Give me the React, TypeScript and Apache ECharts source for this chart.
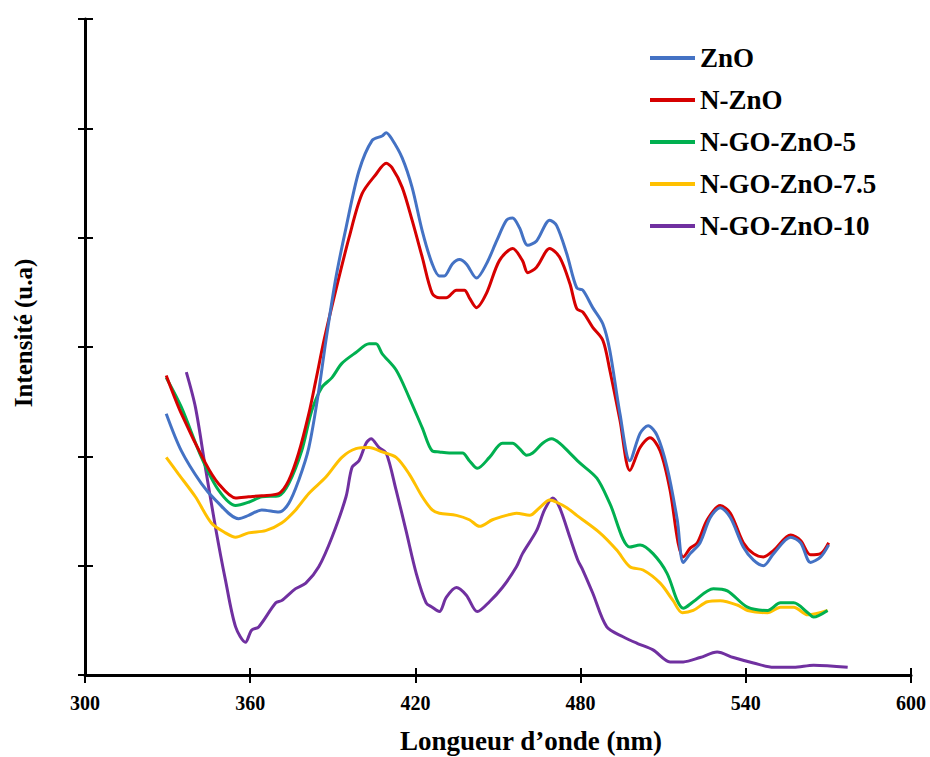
import React, { useEffect, useRef } from "react";
import * as echarts from "echarts";

const seriesNames = ["ZnO", "N-ZnO", "N-GO-ZnO-5", "N-GO-ZnO-7.5", "N-GO-ZnO-10"];
const seriesColors = ["#4472C4", "#D60000", "#00B050", "#FFC000", "#7030A0"];

const xTicks = [300, 360, 420, 480, 540, 600];
const xTitle = "Longueur d\u2019onde (nm)";
const yTitle = "Intensit\u00e9 (u.a)";

const znO: [number, number][] = [
  [329.5, 2.39], [335.0, 2.05], [342.3, 1.75], [347.4, 1.6], [355.8, 1.43], [359.4, 1.46], [364.2, 1.51],
  [370.4, 1.49], [374.0, 1.57], [377.6, 1.78], [381.3, 2.08], [384.9, 2.6], [387.5, 3.06], [391.1, 3.63],
  [394.8, 4.09], [399.5, 4.61], [404.3, 4.89], [407.9, 4.93], [409.4, 4.96], [411.5, 4.9], [415.2, 4.73],
  [418.8, 4.46], [422.5, 4.06], [426.1, 3.76], [428.7, 3.65], [430.5, 3.65], [433.4, 3.76], [436.0, 3.8],
  [438.5, 3.76], [442.2, 3.63], [445.8, 3.76], [449.5, 3.97], [453.1, 4.16], [455.3, 4.18], [457.8, 4.09],
  [460.8, 3.93], [464.0, 3.97], [468.8, 4.16], [471.3, 4.11], [475.0, 3.85], [478.6, 3.54], [480.8, 3.52],
  [484.4, 3.36], [488.1, 3.21], [490.6, 2.97], [494.3, 2.39], [497.9, 1.96], [501.6, 2.21], [504.5, 2.28],
  [507.8, 2.19], [511.4, 1.9], [515.1, 1.42], [517.3, 1.03], [519.8, 1.11], [523.4, 1.21], [527.1, 1.44],
  [530.7, 1.53], [534.4, 1.44], [539.1, 1.17], [542.8, 1.05], [546.4, 1.0], [550.1, 1.11], [556.3, 1.26],
  [559.9, 1.21], [563.5, 1.03], [567.2, 1.08], [570.1, 1.19],
];

const nZnO: [number, number][] = [
  [329.5, 2.74], [335.0, 2.39], [343.7, 1.94], [348.5, 1.75], [354.7, 1.62], [359.4, 1.63], [364.2, 1.64],
  [370.4, 1.66], [374.0, 1.78], [377.6, 2.03], [381.3, 2.39], [383.8, 2.69], [386.8, 3.06], [391.1, 3.52],
  [395.9, 4.0], [400.6, 4.4], [405.7, 4.58], [409.4, 4.68], [411.5, 4.64], [415.2, 4.46], [418.8, 4.16],
  [422.5, 3.82], [426.1, 3.49], [428.7, 3.45], [431.2, 3.45], [434.9, 3.52], [437.8, 3.52], [439.6, 3.45],
  [442.2, 3.36], [445.8, 3.49], [450.5, 3.79], [455.3, 3.9], [458.9, 3.79], [460.8, 3.68], [464.0, 3.73],
  [468.8, 3.9], [472.4, 3.82], [476.1, 3.58], [478.6, 3.35], [480.8, 3.32], [484.4, 3.18], [488.1, 3.06],
  [490.6, 2.79], [494.3, 2.33], [497.9, 1.87], [501.6, 2.08], [505.2, 2.17], [508.9, 2.05], [512.5, 1.69],
  [515.4, 1.21], [517.3, 1.08], [519.8, 1.16], [522.4, 1.21], [526.0, 1.42], [530.7, 1.55], [534.4, 1.48],
  [539.1, 1.21], [542.8, 1.11], [546.4, 1.08], [550.1, 1.14], [556.3, 1.28], [559.9, 1.23], [563.5, 1.1],
  [567.2, 1.11], [570.1, 1.21],
];

const nGoZnO5: [number, number][] = [
  [329.5, 2.72], [335.0, 2.45], [342.3, 1.99], [348.5, 1.69], [354.7, 1.55], [359.4, 1.58], [364.2, 1.63],
  [370.4, 1.64], [374.0, 1.75], [378.7, 2.05], [382.4, 2.42], [386.0, 2.63], [389.7, 2.72], [393.3, 2.85],
  [398.4, 2.95], [403.2, 3.03], [405.7, 3.03], [407.9, 2.94], [413.0, 2.79], [417.7, 2.54], [422.5, 2.26],
  [426.1, 2.05], [428.7, 2.04], [432.3, 2.03], [437.1, 2.03], [439.6, 1.96], [442.5, 1.89], [446.9, 1.99],
  [451.6, 2.12], [455.3, 2.12], [457.8, 2.07], [460.4, 2.01], [462.6, 2.03], [466.2, 2.12], [469.5, 2.16],
  [472.4, 2.12], [476.1, 2.03], [479.7, 1.94], [485.9, 1.8], [490.6, 1.57], [497.9, 1.17], [501.6, 1.19],
  [506.3, 1.11], [511.4, 0.93], [515.1, 0.68], [517.3, 0.61], [520.9, 0.67], [528.2, 0.79], [533.3, 0.77],
  [540.6, 0.62], [547.9, 0.59], [552.6, 0.66], [557.4, 0.66], [562.5, 0.57], [564.6, 0.53], [569.7, 0.59],
];

const nGoZnO75: [number, number][] = [
  [329.5, 1.99], [333.9, 1.84], [340.1, 1.63], [345.9, 1.39], [351.0, 1.3], [354.7, 1.26], [359.4, 1.3],
  [365.6, 1.32], [371.4, 1.39], [376.5, 1.51], [381.3, 1.66], [387.5, 1.81], [393.3, 1.99], [398.4, 2.07],
  [403.2, 2.08], [407.9, 2.04], [413.0, 1.99], [417.7, 1.84], [422.5, 1.63], [426.1, 1.51], [428.7, 1.48],
  [434.9, 1.46], [439.6, 1.42], [443.3, 1.36], [448.0, 1.42], [453.1, 1.46], [456.7, 1.48], [461.5, 1.46],
  [465.1, 1.53], [468.8, 1.6], [471.3, 1.58], [475.0, 1.53], [478.6, 1.46], [487.0, 1.3], [493.2, 1.14],
  [497.9, 0.99], [502.7, 0.96], [508.9, 0.84], [513.6, 0.68], [516.9, 0.57], [520.9, 0.59], [526.0, 0.67],
  [530.7, 0.68], [536.9, 0.64], [540.6, 0.59], [547.9, 0.57], [552.6, 0.62], [557.4, 0.62], [562.5, 0.55],
  [569.7, 0.59],
];

const nGoZnO10: [number, number][] = [
  [336.8, 2.77], [340.1, 2.45], [343.7, 1.9], [347.4, 1.35], [351.0, 0.87], [354.7, 0.44], [358.3, 0.3],
  [360.5, 0.41], [363.1, 0.44], [369.3, 0.66], [371.4, 0.68], [376.5, 0.79], [380.2, 0.84], [384.9, 0.99],
  [389.7, 1.26], [394.8, 1.63], [397.0, 1.9], [399.5, 1.96], [402.1, 2.12], [403.9, 2.16], [406.8, 2.08],
  [409.4, 2.03], [413.0, 1.69], [416.6, 1.32], [420.3, 0.93], [423.9, 0.66], [426.1, 0.62], [428.7, 0.58],
  [431.2, 0.71], [434.9, 0.8], [438.5, 0.73], [442.5, 0.58], [446.9, 0.67], [451.6, 0.8], [456.7, 0.99],
  [458.9, 1.11], [464.0, 1.32], [466.9, 1.51], [469.9, 1.62], [472.4, 1.53], [476.1, 1.26], [479.0, 1.05],
  [480.8, 0.96], [484.4, 0.75], [489.5, 0.44], [495.4, 0.35], [500.5, 0.29], [506.3, 0.23], [512.5, 0.12],
  [517.3, 0.12], [523.4, 0.16], [529.6, 0.21], [535.5, 0.16], [542.8, 0.11], [550.1, 0.07], [557.4, 0.07],
  [564.6, 0.09], [577.0, 0.07],
];

const allData = [znO, nZnO, nGoZnO5, nGoZnO75, nGoZnO10];

const FONT = "'Liberation Serif', 'Times New Roman', serif";

export default function App() {
  const ref = useRef<HTMLDivElement>(null);
  useEffect(() => {
    if (!ref.current) return;
    const chart = echarts.init(ref.current, undefined, { renderer: "svg" });
    const axisLine = { show: true, lineStyle: { color: "#000", width: 3 } };
    const tickStyle = { color: "#000", width: 2 };
    chart.setOption({
      animation: false,
      backgroundColor: "#fff",
      grid: { left: 85, top: 19, right: 19, bottom: 82, containLabel: false, outerBoundsMode: "none" },
      legend: {
        orient: "vertical",
        left: 645,
        top: 39,
        itemWidth: 45,
        itemHeight: 4,
        itemGap: 14,
        icon: "rect",
        data: seriesNames,
        textStyle: { fontFamily: FONT, fontWeight: "bold", fontSize: 27, color: "#000", lineHeight: 28 },
      },
      graphic: [
        {
          type: "text",
          left: 400,
          top: 727,
          style: { text: xTitle, fill: "#000", font: `bold 27px ${FONT}` },
        },
        {
          type: "text",
          x: 23,
          y: 333,
          rotation: Math.PI / 2,
          style: {
            text: yTitle,
            fill: "#000",
            font: `bold 25px ${FONT}`,
            align: "center",
            verticalAlign: "middle",
          },
        },
      ],
      xAxis: [
        {
          type: "value",
          min: 300,
          max: 600,
          interval: 60,
          axisLine,
          axisTick: { show: true, length: 8, lineStyle: tickStyle },
          axisLabel: {
            color: "#000",
            fontFamily: FONT,
            fontWeight: "bold",
            fontSize: 20,
            margin: 18,
            formatter: (v: number) => (xTicks.includes(v) ? String(v) : ""),
          },
          splitLine: { show: false },
        },
        {
          type: "value",
          min: 300,
          max: 600,
          interval: 60,
          position: "bottom",
          axisLine: { show: false },
          axisTick: { show: true, inside: true, length: 7, lineStyle: tickStyle },
          axisLabel: { show: false },
          splitLine: { show: false },
        },
      ],
      yAxis: [
        {
          type: "value",
          min: 0,
          max: 6,
          interval: 1,
          axisLine,
          axisTick: { show: true, length: 7, lineStyle: tickStyle },
          axisLabel: { show: false },
          splitLine: { show: false },
        },
        {
          type: "value",
          min: 0,
          max: 6,
          interval: 1,
          position: "left",
          axisLine: { show: false },
          axisTick: { show: true, inside: true, length: 8, lineStyle: tickStyle },
          axisLabel: { show: false },
          splitLine: { show: false },
        },
      ],
      series: seriesNames.map((name, i) => ({
        name,
        type: "line",
        xAxisIndex: 0,
        yAxisIndex: 0,
        data: allData[i],
        showSymbol: false,
        symbol: "none",
        smooth: 0.3,
        color: seriesColors[i],
        lineStyle: { width: 3, color: seriesColors[i] },
        z: 10 - i,
      })),
    });
    return () => chart.dispose();
  }, []);
  return (
    <div
      ref={ref}
      style={{ position: "fixed", left: 0, top: 0, width: 930, height: 757, background: "#fff" }}
    />
  );
}
